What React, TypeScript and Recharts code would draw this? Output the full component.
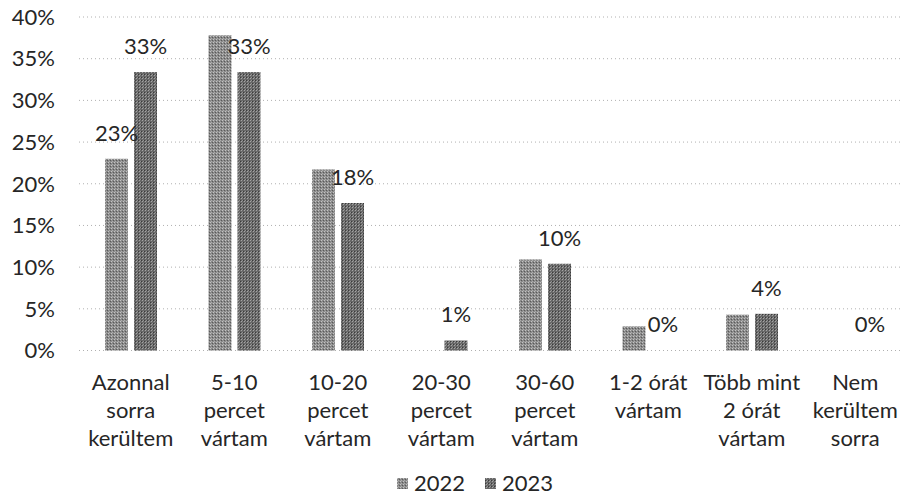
import { BarChart, Bar, XAxis, YAxis, CartesianGrid, Legend, LabelList } from "recharts";

const categories = [
  "Azonnal\nsorra\nkerültem",
  "5-10\npercet\nvártam",
  "10-20\npercet\nvártam",
  "20-30\npercet\nvártam",
  "30-60\npercet\nvártam",
  "1-2 órát\nvártam",
  "Több mint\n2 órát\nvártam",
  "Nem\nkerültem\nsorra",
];
const values2022 = [23.0, 37.8, 21.7, 0, 10.9, 2.9, 4.3, 0];
const values2023 = [33.4, 33.4, 17.7, 1.2, 10.4, 0, 4.4, 0];
const labeled2022 = [true, false, false, false, false, false, false, false];
const yTicks = [0, 5, 10, 15, 20, 25, 30, 35, 40];
const seriesNames = ["2022", "2023"];

const data = categories.map((name, i) => ({
  name,
  y2022: values2022[i],
  y2023: values2023[i],
}));

const FONT = "Lato, 'Open Sans', sans-serif";
const TEXT = "#262626";
const FS = 22;

const CategoryTick = ({ x, y, payload }: any) => {
  const lines = String(payload.value).split("\n");
  return (
    <text x={x} y={y + 31} textAnchor="middle" fill={TEXT} fontSize={FS} fontFamily={FONT}>
      {lines.map((line, i) => (
        <tspan key={i} x={x} dy={i === 0 ? 0 : 28}>
          {line}
        </tspan>
      ))}
    </text>
  );
};

const topLabel = (only?: boolean[]) => (props: any) => {
  const { x, y, width, value, index } = props;
  if (only && !only[index]) return null;
  return (
    <text x={x + width / 2} y={y - 18} textAnchor="middle" fill={TEXT} fontSize={FS} fontFamily={FONT}>
      {`${Math.round(value)}%`}
    </text>
  );
};

const LegendContent = () => (
  <div style={{ display: "flex", gap: 20, fontFamily: FONT, fontSize: FS, color: TEXT, lineHeight: "24px" }}>
    {seriesNames.map((n) => (
      <span key={n} style={{ display: "flex", alignItems: "center", gap: 6 }}>
        <svg width={11} height={11}>
          <rect width={11} height={11} fill={`url(#pat${n})`} />
        </svg>
        {n}
      </span>
    ))}
  </div>
);

export default function App() {
  return (
    <div style={{ position: "absolute", left: 0, top: 0, width: 901, height: 503, overflow: "hidden", background: "#fff" }}>
      <BarChart
        width={907}
        height={503}
        data={data}
        margin={{ top: 17, right: 0, bottom: 8, left: 0 }}
        barSize={23}
        barGap={6}
      >
        <defs>
          <pattern id="pat2022" width={3} height={3} patternUnits="userSpaceOnUse">
            <rect width={3} height={3} fill="#8a8a8a" />
            <rect x={0} y={0} width={1} height={1} fill="#c4c4c4" />
            <rect x={2} y={1} width={1} height={1} fill="#5a5a5a" />
            <rect x={1} y={2} width={1} height={1} fill="#acacac" />
          </pattern>
          <pattern id="pat2023" width={3} height={3} patternUnits="userSpaceOnUse">
            <rect width={3} height={3} fill="#686868" />
            <rect x={1} y={0} width={1} height={1} fill="#a4a4a4" />
            <rect x={0} y={2} width={1} height={1} fill="#3a3a3a" />
            <rect x={2} y={2} width={1} height={1} fill="#929292" />
          </pattern>
        </defs>
        <CartesianGrid vertical={false} stroke="#b0b0b0" strokeDasharray="1 3" />
        <XAxis
          dataKey="name"
          interval={0}
          tickLine={false}
          axisLine={false}
          height={114.5}
          tick={<CategoryTick />}
        />
        <YAxis
          width={79}
          domain={[0, 40]}
          ticks={yTicks}
          tickFormatter={(v) => `${v}%`}
          tickLine={false}
          axisLine={false}
          tickMargin={18}
          tick={{ fill: TEXT, fontSize: FS, fontFamily: FONT }}
        />
        <Legend
          verticalAlign="bottom"
          height={30}
          content={<LegendContent />}
          wrapperStyle={{ left: 397, width: 200, bottom: 2 }}
        />
        <Bar dataKey="y2022" name="2022" fill="url(#pat2022)" isAnimationActive={false}>
          <LabelList dataKey="y2022" content={topLabel(labeled2022)} />
        </Bar>
        <Bar dataKey="y2023" name="2023" fill="url(#pat2023)" minPointSize={0.01} isAnimationActive={false}>
          <LabelList dataKey="y2023" content={topLabel()} />
        </Bar>
      </BarChart>
    </div>
  );
}
